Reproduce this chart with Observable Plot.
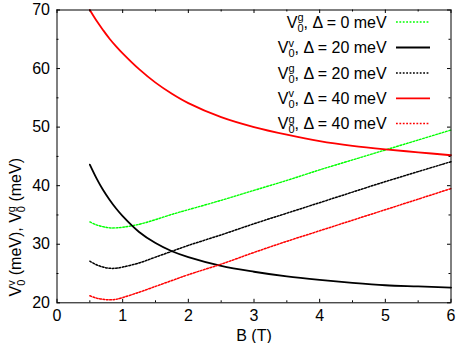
<!DOCTYPE html>
<html><head><meta charset="utf-8">
<script src="https://cdn.jsdelivr.net/npm/d3@7"></script>
<script src="https://cdn.jsdelivr.net/npm/@observablehq/plot@0.6"></script>
<style>body{margin:0;background:#fff;} svg{display:block;}</style>
</head><body><div id="chart"></div>
<script>
// Magnetic field B (T)
const B = [0.5, 0.6, 0.7, 0.8, 0.9, 1.0, 1.25, 1.5, 1.75, 2, 2.5, 3, 3.5, 4, 4.5, 5, 5.5, 6];
// V0^g, Δ = 0 meV
const vg0  = [33.8, 33.3, 33.0, 32.8, 32.8, 32.9, 33.4, 34.2, 35.1, 35.9, 37.5, 39.2, 40.9, 42.7, 44.4, 46.1, 47.8, 49.5];
// V0^v, Δ = 20 meV
const vv20 = [43.6, 41.3, 39.3, 37.6, 36.1, 34.8, 32.1, 30.2, 28.8, 27.8, 26.3, 25.3, 24.5, 23.9, 23.4, 23.0, 22.8, 22.6];
// V0^g, Δ = 20 meV
const vg20 = [27.1, 26.5, 26.1, 25.9, 25.9, 26.1, 26.8, 27.8, 28.8, 29.8, 31.6, 33.5, 35.3, 37.1, 38.9, 40.7, 42.4, 44.1];
// V0^v, Δ = 40 meV
const vv40 = [70.0, 68.2, 66.6, 65.1, 63.8, 62.6, 59.9, 57.6, 55.7, 54.1, 51.7, 50.0, 48.7, 47.6, 46.8, 46.2, 45.7, 45.2];
// V0^g, Δ = 40 meV
const vg40 = [21.2, 20.8, 20.6, 20.5, 20.6, 20.9, 21.8, 22.8, 23.8, 24.8, 26.6, 28.6, 30.5, 32.3, 34.1, 35.9, 37.7, 39.5];

const xMajor = [0, 1, 2, 3, 4, 5, 6];
const xMinor = [0.5, 1.5, 2.5, 3.5, 4.5, 5.5];
const yMajor = [20, 30, 40, 50, 60, 70];
const yMinor = [25, 35, 45, 55, 65];

const legendSup = ["g", "v", "g", "v", "g"];
const legendDelta = ["0", "20", "20", "40", "40"];
const xLabel = "B (T)";

const series = [
  {vals: vg0,  color: "#00ff00", dash: "1.8,1.6", width: 1.4},
  {vals: vv20, color: "#000000", dash: null,      width: 1.8},
  {vals: vg20, color: "#000000", dash: "1.8,1.6", width: 1.5},
  {vals: vv40, color: "#ff0000", dash: null,      width: 1.8},
  {vals: vg40, color: "#ff0000", dash: "1.8,1.6", width: 1.5}
];

const W = 461, H = 343;
const mL = 56.5, mR = 10.5, mT = 9.5, mB = 40.7;
const innerW = W - mL - mR, innerH = H - mT - mB;
const maj = 3.5, mnr = 2;

const marks = [];
series.forEach(s => {
  const rows = B.map((b, i) => ({B: b, V: s.vals[i]}));
  marks.push(Plot.line(rows, {x: "B", y: "V", stroke: s.color, strokeWidth: s.width,
    strokeDasharray: s.dash, curve: "catmull-rom"}));
});
marks.push(
  Plot.tickX(xMajor, {x: d => d, insetTop: innerH - maj, stroke: "black"}),
  Plot.tickX(xMajor, {x: d => d, insetBottom: innerH - maj, stroke: "black"}),
  Plot.tickX(xMinor, {x: d => d, insetTop: innerH - mnr, stroke: "black"}),
  Plot.tickX(xMinor, {x: d => d, insetBottom: innerH - mnr, stroke: "black"}),
  Plot.tickY(yMajor, {y: d => d, insetRight: innerW - maj, stroke: "black"}),
  Plot.tickY(yMajor, {y: d => d, insetLeft: innerW - maj, stroke: "black"}),
  Plot.tickY(yMinor, {y: d => d, insetRight: innerW - mnr, stroke: "black"}),
  Plot.tickY(yMinor, {y: d => d, insetLeft: innerW - mnr, stroke: "black"}),
  Plot.text([xLabel], {frameAnchor: "bottom", dy: 38.2, lineAnchor: "bottom", fill: "black", fontSize: 16}),
  Plot.frame({stroke: "black", strokeWidth: 1})
);

const svg = Plot.plot({
  width: W, height: H,
  marginLeft: mL, marginRight: mR, marginTop: mT, marginBottom: mB,
  style: {fontSize: "16px", fontFamily: "'Liberation Sans', Arial, sans-serif", background: "white", color: "black"},
  x: {domain: [0, 6], ticks: xMajor, tickSize: 0, tickPadding: 7, label: null, tickFormat: d => String(d)},
  y: {domain: [20, 70], ticks: yMajor, tickSize: 0, tickPadding: 7, label: null, tickFormat: d => String(d)},
  marks
});
document.getElementById("chart").appendChild(svg);

const root = d3.select(svg);
const FONT = "'Liberation Sans', Arial, sans-serif";

// build text with stacked sup/sub scripts
function rich(parent, parts) {
  const t = parent.append("text").attr("x", 0).attr("y", 0)
    .attr("font-family", FONT).attr("font-size", 16).attr("fill", "black");
  let shiftBack = 0;
  parts.forEach(p => {
    if (typeof p === "string") {
      t.append("tspan").attr("dy", shiftBack).text(p);
      shiftBack = 0;
    } else {
      const sup = t.append("tspan").attr("font-size", 11).attr("dy", -6.5).text(p.sup);
      const w = sup.node().getComputedTextLength();
      t.append("tspan").attr("font-size", 11).attr("dx", -w).attr("dy", 10.5).text(p.sub);
      shiftBack = -4;
    }
  });
  return t;
}

// Legend
const rowsY = [22, 47.5, 73, 98.3, 123.5];
const textRight = 387, sx1 = 396, sx2 = 430;
legendSup.forEach((sup, i) => {
  const g = root.append("g");
  const t = rich(g, ["V", {sup, sub: "0"}, ", \u0394 = " + legendDelta[i] + " meV"]);
  const bb = t.node().getBBox();
  g.attr("transform", `translate(${textRight - (bb.x + bb.width)},${rowsY[i] + 5.5})`);
  const s = series[i];
  root.append("line").attr("x1", sx1).attr("x2", sx2).attr("y1", rowsY[i]).attr("y2", rowsY[i])
    .attr("stroke", s.color).attr("stroke-width", s.width)
    .attr("stroke-dasharray", s.dash);
});

// Y label
const gy = root.append("g");
const ty = rich(gy, ["V", {sup: "v", sub: "0"}, " (meV), V", {sup: "g", sub: "0"}, " (meV)"]);
const bby = ty.node().getBBox();
const cy = 158;
gy.attr("transform", `translate(21,${cy + bby.width / 2}) rotate(-90)`);
</script>
</body></html>
